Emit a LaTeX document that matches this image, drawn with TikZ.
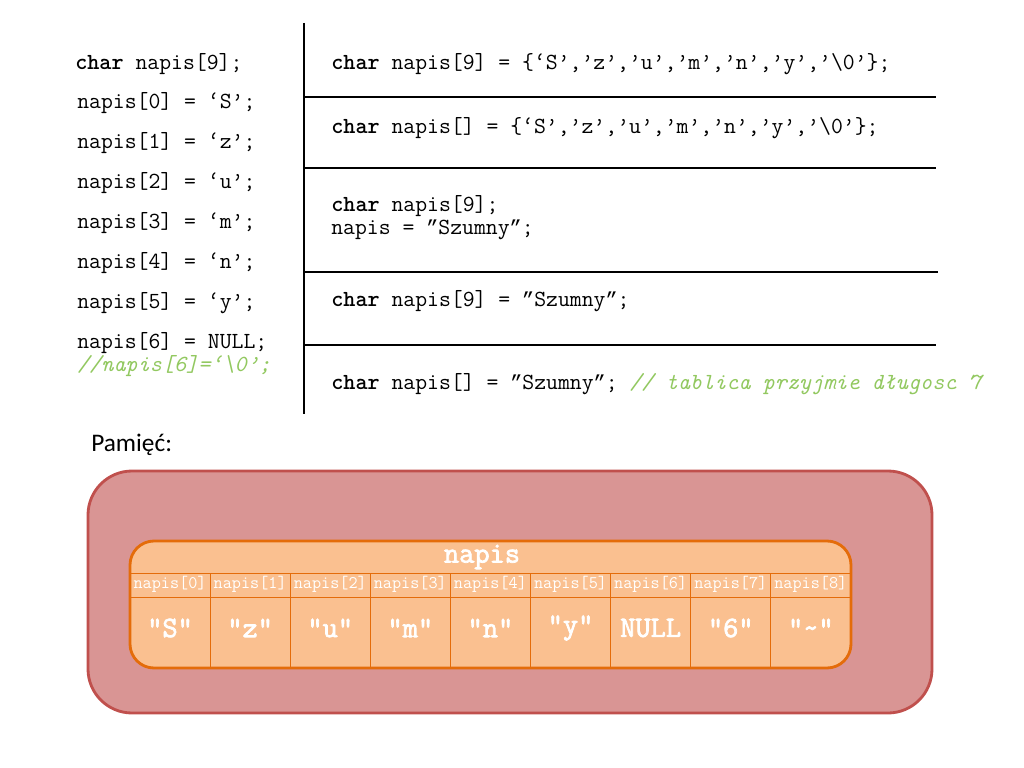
\documentclass[tikz,border=0pt]{standalone}
\usepackage{fontspec}
\newfontfamily\memfont{Carlito}
\newfontfamily\valfont[FakeBold=2.5]{Latin Modern Mono}
\newfontfamily\qfont{Liberation Mono}
\newcommand\dqr{{\fontsize{14.35}{16}\selectfont\qfont ”}}
\usepackage{xcolor}
\usepackage{tikz}
\usetikzlibrary{positioning,calc}

\definecolor{cmtgreen}{RGB}{146,200,96}
\definecolor{memfill}{RGB}{217,149,148}
\definecolor{memedge}{RGB}{192,80,77}
\definecolor{arrfill}{RGB}{250,192,144}
\definecolor{arredge}{RGB}{228,108,10}

\tikzset{
  code/.style={anchor=west, inner sep=0pt, font=\fontsize{16.4}{18}\selectfont\ttfamily},
  cmt/.style={code, text=cmtgreen, font=\fontsize{16.4}{18}\selectfont\ttfamily\itshape},
  rule/.style={line width=2pt},
  cellline/.style={arredge, line width=0.7pt},
  idx/.style={inner sep=0pt, text=white, font=\fontsize{12.6}{14}\selectfont\ttfamily},
  val/.style={inner sep=0pt, text=white, font=\fontsize{21}{23}\selectfont\valfont}
}

\begin{document}
\begin{tikzpicture}[x=0.025cm, y=-0.025cm]
  % 1 unit = 1px of the 1024x768 frame, y down
  \useasboundingbox (0,0) rectangle (1024,768);
  \def\cw{80.1}
  % left column: element by element
  \node[code] (dec) at (75,64) {\textbf{char} napis[9];};
  \foreach \i/\c in {0/S,1/z,2/u,3/m,4/n,5/y}
    \node[code] (el\i) at (77,{103+40*\i}) {napis[\i] = ‘\c’;};
  \node[code] (el6) at (77,343) {napis[6] = NULL;};
  \node[cmt] (el6c) at (77,366) {//napis[6]=‘\textbackslash0’;};
  % right column: other ways to write it
  \node[code] (r1) at (331,64) {\textbf{char} napis[9] = \{‘S’,’z’,’u’,’m’,’n’,’y’,’\textbackslash0’\};};
  \node[code] (r2) at (331,128) {\textbf{char} napis[] = \{‘S’,’z’,’u’,’m’,’n’,’y’,’\textbackslash0’\};};
  \node[code] (r3a) at (331,206) {\textbf{char} napis[9];};
  \node[code] (r3b) at (331,230) {napis = \dqr Szumny\dqr;};
  \node[code] (r4) at (331,301) {\textbf{char} napis[9] = \dqr Szumny\dqr;};
  \node[code] (r5) at (331,384) {\textbf{char} napis[] = \dqr Szumny\dqr; \textcolor{cmtgreen}{\itshape // tablica przyjmie długosc 7}};
  % dividers
  \draw[rule] (304,23) -- (304,414);
  \foreach \y/\e in {97/936,168/936,272/938,345/936}
    \draw[rule] (304,\y) -- (\e,\y);
  % memory
  \node[anchor=west, inner sep=0pt, font=\memfont\fontsize{18}{20}\selectfont] (mem) at (91,445) {Pamięć:};
  \draw[memedge, fill=memfill, line width=2pt, rounded corners=1.1cm] (88,471) rectangle (932,713);
  \fill[arrfill, rounded corners=0.6cm] (130,541) rectangle (851,668);
  \draw[cellline] (130,573) -- (851,573);
  \draw[cellline] (130,597) -- (851,597);
  \foreach \i in {1,...,8}
    \draw[cellline] ({130+\cw*\i},573) -- ({130+\cw*\i},668);
  \draw[arredge, line width=2pt, rounded corners=0.6cm] (130,541) rectangle (851,668);
  \node[val] (title) at (482,557) {napis};
  \foreach \i/\v in {0/"S",1/"z",2/"u",3/"m",4/"n",5/"y",6/NULL,7/"6",8/"\textasciitilde"} {
    \node[idx] (idx\i) at ({130+\cw*(\i+0.5)},584) {napis[\i]};
    \node[val] (val\i) at ({130+\cw*(\i+0.5)},628) {\v};
  }
\end{tikzpicture}
\end{document}
